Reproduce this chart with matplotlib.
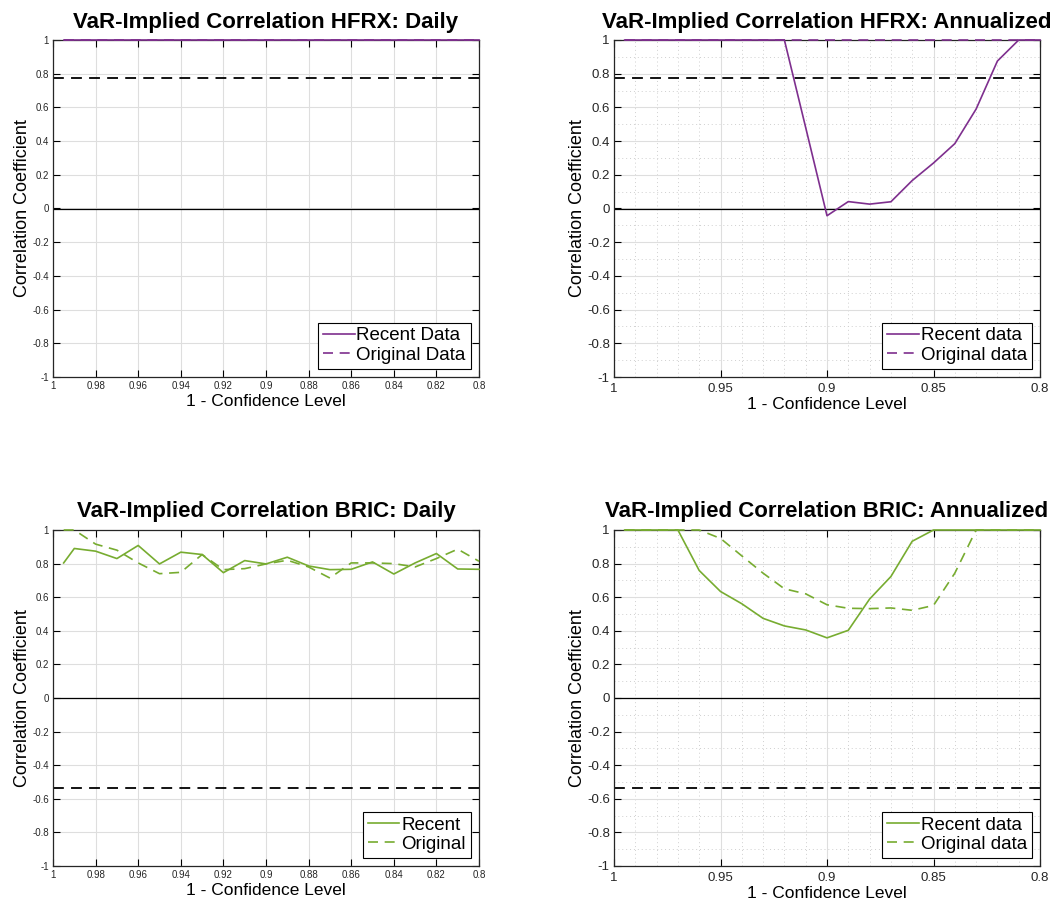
import matplotlib
matplotlib.use("Agg")
import matplotlib.pyplot as plt
from matplotlib.ticker import MultipleLocator

plt.rcParams['font.family'] = ['Liberation Sans', 'DejaVu Sans']

# confidence levels (x-axis)
conf = [0.995, 0.99, 0.98, 0.97, 0.96, 0.95, 0.94, 0.93, 0.92, 0.91, 0.90,
        0.89, 0.88, 0.87, 0.86, 0.85, 0.84, 0.83, 0.82, 0.81, 0.80]

# HFRX
hfrx_daily_recent = [1.0] * 21
hfrx_daily_orig = [1.0] * 21
hfrx_ann_recent = [1.0, 1.0, 1.0, 1.0, 1.0, 1.0, 1.0, 1.0, 1.0, 0.48, -0.043,
                   0.041, 0.026, 0.04, 0.166, 0.27, 0.385, 0.59, 0.875, 1.0, 1.0]
hfrx_ann_orig = [1.0] * 21
hfrx_full = 0.774

# BRIC
bric_daily_recent = [0.804, 0.89, 0.874, 0.83, 0.908, 0.798, 0.868, 0.854, 0.746,
                     0.818, 0.798, 0.838, 0.786, 0.764, 0.766, 0.81, 0.738,
                     0.804, 0.86, 0.768, 0.766]
bric_daily_orig = [1.0, 1.0, 0.916, 0.88, 0.804, 0.74, 0.748, 0.854, 0.764, 0.77,
                   0.798, 0.82, 0.78, 0.714, 0.804, 0.804, 0.80, 0.78, 0.83,
                   0.886, 0.814]
bric_ann_recent = [1.0, 1.0, 1.0, 1.0, 0.759, 0.634, 0.561, 0.474, 0.429, 0.405,
                   0.358, 0.403, 0.589, 0.723, 0.933, 1.0, 1.0, 1.0, 1.0, 1.0, 1.0]
bric_ann_orig = [1.0, 1.0, 1.0, 1.0, 1.0, 0.95, 0.846, 0.743, 0.65, 0.62, 0.555,
                 0.534, 0.532, 0.536, 0.522, 0.551, 0.743, 1.0, 1.0, 1.0, 1.0]
bric_full = -0.535

purple = '#7E2F8E'
green = '#77AC30'
tickcol = '#262626'

W, H = 1059, 902
fig = plt.figure(figsize=(W / 100, H / 100), dpi=100)


def make_ax(x0, y0, x1, y1):
    return fig.add_axes([x0 / W, 1 - y1 / H, (x1 - x0) / W, (y1 - y0) / H])


panels = [
    (make_ax(53, 40, 479, 377), 'VaR-Implied Correlation HFRX: Daily', False,
     hfrx_daily_recent, hfrx_daily_orig, hfrx_full, purple,
     ['Recent Data', 'Original Data']),
    (make_ax(614, 40, 1040, 377), 'VaR-Implied Correlation HFRX: Annualized', True,
     hfrx_ann_recent, hfrx_ann_orig, hfrx_full, purple,
     ['Recent data', 'Original data']),
    (make_ax(53, 530, 479, 866), 'VaR-Implied Correlation BRIC: Daily', False,
     bric_daily_recent, bric_daily_orig, bric_full, green,
     ['Recent', 'Original']),
    (make_ax(614, 530, 1040, 866), 'VaR-Implied Correlation BRIC: Annualized', True,
     bric_ann_recent, bric_ann_orig, bric_full, green,
     ['Recent data', 'Original data']),
]

for ax, title, annual, recent, orig, full, col, labels in panels:
    ax.plot(conf, orig, color=col, lw=1.2, ls=(0, (6, 4)), label=labels[1],
            zorder=3, clip_on=False)
    ax.plot(conf, recent, color=col, lw=1.2, label=labels[0], zorder=4, clip_on=False)
    ax.axhline(0, color='black', lw=0.9, zorder=2)
    ax.axhline(full, color='black', lw=1.3, ls=(0, (6, 4)), zorder=2)
    ax.set_xlim(1, 0.8)
    ax.set_ylim(-1, 1)
    ax.yaxis.set_major_locator(MultipleLocator(0.2))
    if annual:
        ax.xaxis.set_major_locator(MultipleLocator(0.05))
        ax.xaxis.set_minor_locator(MultipleLocator(0.01))
        ax.yaxis.set_minor_locator(MultipleLocator(0.1))
        ax.grid(True, which='minor', color='#cfcfcf', lw=0.7, ls=(0, (1, 3)))
        tsize = 9.5
        xpad = 4
    else:
        ax.xaxis.set_major_locator(MultipleLocator(0.02))
        tsize = 7
        xpad = 3
    ax.grid(True, which='major', color='#dedede', lw=0.8)
    ax.set_axisbelow(True)
    ax.xaxis.set_major_formatter(plt.FuncFormatter(
        lambda v, p: ('%.2f' % v).rstrip('0').rstrip('.')))
    ax.yaxis.set_major_formatter(plt.FuncFormatter(
        lambda v, p: ('%.1f' % v).rstrip('0').rstrip('.') if abs(v) > 1e-9 else '0'))
    ax.tick_params(which='both', direction='in', top=True, right=True,
                   labelsize=tsize, width=0.8, labelcolor=tickcol)
    ax.tick_params(which='major', length=5)
    ax.tick_params(axis='x', which='major', pad=xpad)
    ax.tick_params(axis='y', which='major', pad=3)
    ax.tick_params(which='minor', length=0)
    for s in ax.spines.values():
        s.set_linewidth(0.9)
        s.set_color(tickcol)
    ax.set_title(title, fontsize=16, fontweight='bold', pad=9)
    ax.set_ylabel('Correlation Coefficient', fontsize=13, labelpad=1)
    ax.set_xlabel('1 - Confidence Level', fontsize=12.5, labelpad=2)
    h, l = ax.get_legend_handles_labels()
    leg = ax.legend(h[::-1], l[::-1], loc='lower right', fontsize=13.5,
                    fancybox=False, edgecolor='black', framealpha=1,
                    handlelength=1.7, handletextpad=0.1, borderpad=0.25,
                    labelspacing=0.12, borderaxespad=0.45)
    leg.get_frame().set_linewidth(0.8)

fig.savefig('out.png', dpi=100)
